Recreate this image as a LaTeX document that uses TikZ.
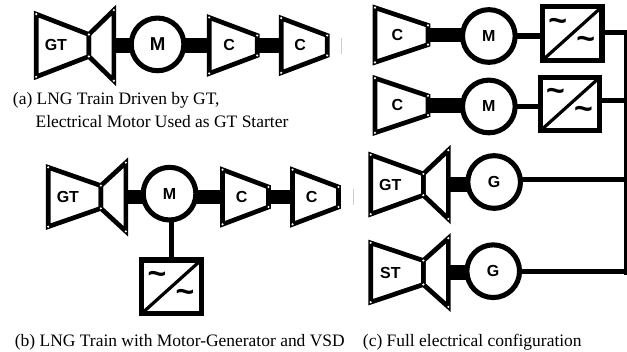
\documentclass[tikz,border=0pt]{standalone}
\usepackage{fontspec}
\setmainfont{Liberation Serif}
\setsansfont{Liberation Sans}
\usetikzlibrary{positioning, calc}
\definecolor{specgray}{RGB}{205,205,205}
% casing with its narrow end on the right or on the left, white dots on the corners
\newcommand{\casingdots}[1]{%
  \draw[casing] (#1p) -- (#1q) -- (#1r) -- (#1s) -- cycle;
  \foreach \crn in {p,q,r,s}
    \fill[white] (#1\crn) circle (0.9pt);}
\newcommand{\taperright}[2]{%
  \coordinate (#1p) at (#1.north west);
  \coordinate (#1q) at ($(#1.east)+(0,#2/2)$);
  \coordinate (#1r) at ($(#1.east)-(0,#2/2)$);
  \coordinate (#1s) at (#1.south west);
  \casingdots{#1}}
\newcommand{\taperleft}[2]{%
  \coordinate (#1p) at (#1.north east);
  \coordinate (#1q) at ($(#1.west)+(0,#2/2)$);
  \coordinate (#1r) at ($(#1.west)-(0,#2/2)$);
  \coordinate (#1s) at (#1.south east);
  \casingdots{#1}}
\newcommand{\vsdmarks}[1]{%
  \draw[line width=2.4pt] (#1.south west) -- (#1.north east);
  \node[tilde] (#1up) at ([shift={(-11pt,6.5pt)}]#1.center) {\textasciitilde};
  \node[tilde] (#1dn) at ([shift={(10pt,-7pt)}]#1.center) {\textasciitilde};}

\begin{document}
\begin{tikzpicture}[
  casing/.style={draw=black, line width=3.5pt},
  machine/.style={rectangle, inner sep=0pt, outer sep=0pt,
                  font=\sffamily\bfseries\fontsize{12}{12}\selectfont},
  compr/.style={machine, minimum width=36pt, minimum height=42pt,
                execute at begin node={\hspace*{-6pt}}},
  gasgen/.style={machine, minimum width=39.5pt, minimum height=44.5pt,
                 execute at begin node={\hspace*{-10pt}}},
  turb/.style={machine, minimum width=18.75pt, minimum height=51.5pt},
  rotor/.style={circle, draw=black, line width=3.8pt, minimum size=39.5pt, inner sep=0pt,
                outer sep=0pt, font=\sffamily\bfseries\fontsize{12}{12}\selectfont},
  vsd/.style={rectangle, draw=black, line width=3.8pt, minimum width=44.5pt, minimum height=40pt,
              inner sep=0pt, outer sep=0pt},
  tilde/.style={inner sep=0pt, font=\sffamily\bfseries\fontsize{24}{24}\selectfont},
  shaft/.style={line width=11pt},
  wire/.style={line width=4pt},
  caption/.style={anchor=west, inner sep=0pt, font=\fontsize{13.1}{16}\selectfont},
  speck/.style={fill=specgray, minimum width=0.8pt, minimum height=12pt, inner sep=0pt}
]
  \useasboundingbox (0,0) rectangle (470.25pt,-264pt);

  % (a) gas turbine and motor
  \node[gasgen, minimum height=47pt] (gta) at (46.9pt,-34.1pt) {GT};
  \node[turb, minimum height=53pt, right=0pt of gta] (tua) {};
  \node[rotor, right=13pt of tua, yshift=0.8pt, font=\sffamily\bfseries\fontsize{14}{14}\selectfont] (ma) {M};
  \node[compr, right=19pt of ma, yshift=-0.8pt] (c1a) {C};
  \node[compr, minimum height=41pt, minimum width=34.5pt, right=18pt of c1a] (c2a) {C};
  \draw[shaft] (tua.east) -- (tua.east -| ma.west);
  \draw[shaft] (c1a.west -| ma.east) -- (c1a.west);
  \draw[shaft] (c1a.east) -- (c2a.west);
  \node[speck] (speca) at (256.3pt,-34.5pt) {};
  \node[caption] (capa) at (9.5pt,-75pt) {(a) LNG Train Driven by GT,};
  \node[caption] (capab) at (26.5pt,-91.5pt) {Electrical Motor Used as GT Starter};

  % (b) motor-generator with VSD
  \node[gasgen] (gtb) at (55.9pt,-147.75pt) {GT};
  \node[turb, right=0pt of gtb] (tub) {};
  \node[rotor, right=13pt of tub, yshift=2.5pt] (mb) {M};
  \node[compr, minimum width=34.5pt, minimum height=41pt, right=20pt of mb, yshift=-2.5pt] (c1b) {C};
  \node[compr, minimum width=34.5pt, minimum height=41pt, right=18pt of c1b] (c2b) {C};
  \node[vsd, below=30pt of mb, xshift=1.5pt] (vsdb) {};
  \draw[shaft] (tub.east) -- (tub.east -| mb.west);
  \draw[shaft] (c1b.west -| mb.east) -- (c1b.west);
  \draw[shaft] (c1b.east) -- (c2b.west);
  \draw[wire] (vsdb.north |- mb.south) -- (vsdb.north);
  \node[caption] (capb) at (11pt,-257pt) {(b) LNG Train with Motor-Generator and VSD};

  % (c) full electrical
  \node[compr, minimum width=39.75pt, minimum height=41pt] (c1c) at (301.1pt,-26.25pt) {C};
  \node[rotor, right=25.9pt of c1c, yshift=-0.75pt] (m1c) {M};
  \node[vsd, right=20.6pt of m1c, yshift=1.9pt] (v1c) {};
  \node[compr, minimum width=39.75pt, minimum height=41pt] (c2c) at (301.1pt,-79.1pt) {C};
  \node[rotor, right=25.9pt of c2c, yshift=-0.75pt] (m2c) {M};
  \node[vsd, right=19pt of m2c, yshift=1.9pt] (v2c) {};
  \node[gasgen] (gtc) at (297.75pt,-138.4pt) {GT};
  \node[turb, right=0pt of gtc] (tuc) {};
  \node[rotor, right=14.6pt of tuc, yshift=1.9pt] (g1c) {G};
  \node[gasgen] (stc) at (297.75pt,-204.4pt) {ST};
  \node[turb, right=0pt of stc] (tud) {};
  \node[rotor, right=13.9pt of tud, yshift=1pt] (g2c) {G};
  \coordinate (busend) at (469.9pt,-206.5pt);
  \draw[shaft] (c1c.east) -- (c1c.east -| m1c.west);
  \draw[shaft] (c2c.east) -- (c2c.east -| m2c.west);
  \draw[shaft] (tuc.east) -- (tuc.east -| g1c.west);
  \draw[shaft] (tud.east) -- (tud.east -| g2c.west);
  \draw[wire] (m1c.east) -- (m1c.east -| v1c.west);
  \draw[wire] (m2c.east) -- (m2c.east -| v2c.west);
  \draw[wire] ([yshift=0.8pt]v1c.east) -| (busend);
  \draw[wire] ([yshift=2.5pt]v2c.east) -- ([yshift=2.5pt]v2c.east -| busend);
  \draw[wire] ([yshift=2pt]g1c.east) -- ([yshift=2pt]g1c.east -| busend);
  \draw[wire] (g2c.east) -- (g2c.east -| busend);
  \node[speck] (specc) at (265pt,-147.5pt) {};
  \node[caption] (capc) at (272pt,-257pt) {(c) Full electrical configuration};

  \foreach \mach/\neck in {gta/16.5pt,c1a/15pt,c2a/15pt,gtb/17pt,c1b/15pt,c2b/15pt,
                           c1c/14.5pt,c2c/14.5pt,gtc/16pt,stc/18pt}
    {\taperright{\mach}{\neck}}
  \foreach \mach/\neck in {tua/16.5pt,tub/17pt,tuc/16pt,tud/18pt}
    {\taperleft{\mach}{\neck}}
  \foreach \conv in {vsdb,v1c,v2c}
    {\vsdmarks{\conv}}
\end{tikzpicture}
\end{document}
